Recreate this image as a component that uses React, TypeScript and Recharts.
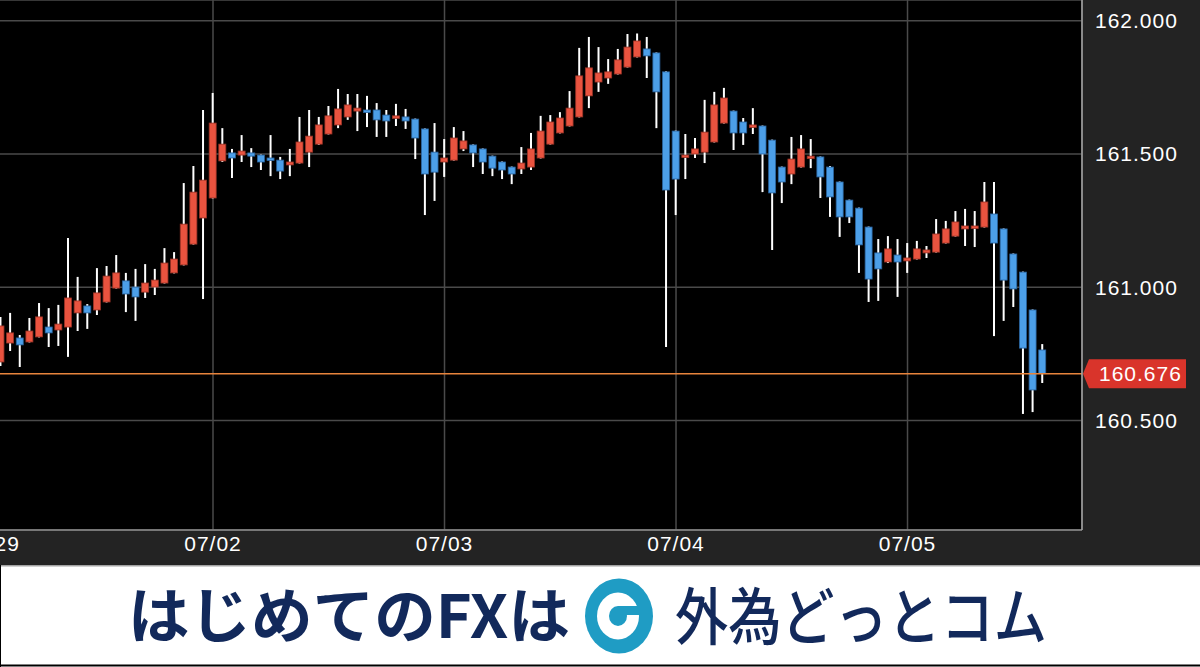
import React from "react";
import {
  ComposedChart,
  Bar,
  XAxis,
  YAxis,
  CartesianGrid,
  ReferenceLine,
} from "recharts";

// USD/JPY hourly candles, oldest first
const opens = [
  160.720, 160.791, 160.810, 160.795, 160.814, 160.851, 160.840, 160.851, 160.904, 160.930,
  160.915, 160.945, 160.997, 161.024, 161.001, 160.982, 161.001, 161.016, 161.054, 161.084,
  161.162, 161.260, 161.335, 161.474, 161.504, 161.496, 161.504, 161.496, 161.485, 161.477,
  161.459, 161.466, 161.507, 161.537, 161.575, 161.609, 161.639, 161.661, 161.665, 161.665,
  161.646, 161.635, 161.639, 161.631, 161.594, 161.507, 161.470, 161.477, 161.519, 161.534,
  161.519, 161.492, 161.470, 161.451, 161.444, 161.451, 161.485, 161.537, 161.579, 161.605,
  161.639, 161.718, 161.770, 161.785, 161.800, 161.826, 161.864, 161.894, 161.879, 161.808,
  161.586, 161.489, 161.500, 161.507, 161.545, 161.616, 161.661, 161.620, 161.601, 161.605,
  161.552, 161.451, 161.425, 161.451, 161.489, 161.489, 161.451, 161.395, 161.327, 161.297,
  161.226, 161.129, 161.095, 161.121, 161.099, 161.106, 161.129, 161.132, 161.166, 161.192,
  161.219, 161.226, 161.226, 161.275, 161.219, 161.125, 161.057, 160.915, 160.765,
];
const highs = [
  160.889, 160.904, 160.821, 160.885, 160.941, 160.922, 160.934, 161.185, 161.039, 160.937,
  161.072, 161.080, 161.121, 161.054, 161.069, 161.087, 161.069, 161.147, 161.132, 161.391,
  161.455, 161.665, 161.729, 161.597, 161.519, 161.571, 161.522, 161.498, 161.571, 161.489,
  161.519, 161.639, 161.665, 161.639, 161.680, 161.744, 161.725, 161.725, 161.718, 161.691,
  161.665, 161.688, 161.669, 161.633, 161.596, 161.616, 161.556, 161.601, 161.586, 161.536,
  161.521, 161.494, 161.472, 161.453, 161.526, 161.579, 161.643, 161.646, 161.657, 161.736,
  161.898, 161.939, 161.901, 161.856, 161.894, 161.950, 161.952, 161.939, 161.881, 161.810,
  161.588, 161.575, 161.560, 161.703, 161.733, 161.748, 161.663, 161.635, 161.672, 161.607,
  161.554, 161.453, 161.564, 161.571, 161.556, 161.491, 161.455, 161.397, 161.329, 161.299,
  161.228, 161.181, 161.192, 161.181, 161.166, 161.174, 161.155, 161.256, 161.249, 161.286,
  161.294, 161.286, 161.395, 161.395, 161.221, 161.127, 161.059, 160.917, 160.787,
];
const lows = [
  160.705, 160.761, 160.701, 160.793, 160.812, 160.776, 160.780, 160.739, 160.836, 160.844,
  160.896, 160.943, 160.995, 160.907, 160.874, 160.960, 160.971, 161.014, 161.052, 161.082,
  161.160, 160.956, 161.333, 161.470, 161.410, 161.470, 161.451, 161.440, 161.417, 161.406,
  161.417, 161.464, 161.451, 161.534, 161.573, 161.597, 161.628, 161.586, 161.601, 161.564,
  161.564, 161.605, 161.594, 161.481, 161.271, 161.324, 161.414, 161.475, 161.511, 161.451,
  161.425, 161.417, 161.406, 161.387, 161.425, 161.440, 161.483, 161.535, 161.577, 161.603,
  161.637, 161.672, 161.733, 161.763, 161.798, 161.824, 161.862, 161.785, 161.597, 160.776,
  161.271, 161.406, 161.485, 161.466, 161.543, 161.614, 161.515, 161.534, 161.575, 161.357,
  161.140, 161.316, 161.387, 161.449, 161.447, 161.335, 161.264, 161.189, 161.241, 161.054,
  160.945, 160.949, 161.091, 160.964, 161.054, 161.104, 161.110, 161.130, 161.164, 161.190,
  161.155, 161.151, 161.224, 160.817, 160.874, 160.926, 160.525, 160.532, 160.641,
];
const closes = [
  160.855, 160.829, 160.784, 160.836, 160.889, 160.829, 160.862, 160.960, 160.949, 160.904,
  160.979, 161.042, 161.054, 160.975, 160.964, 161.016, 161.027, 161.091, 161.106, 161.237,
  161.357, 161.402, 161.616, 161.537, 161.485, 161.511, 161.492, 161.470, 161.477, 161.436,
  161.470, 161.545, 161.567, 161.609, 161.643, 161.669, 161.684, 161.672, 161.661, 161.628,
  161.624, 161.643, 161.624, 161.560, 161.425, 161.432, 161.485, 161.560, 161.549, 161.504,
  161.470, 161.447, 161.440, 161.425, 161.466, 161.519, 161.586, 161.620, 161.635, 161.672,
  161.793, 161.823, 161.804, 161.808, 161.853, 161.901, 161.924, 161.868, 161.733, 161.365,
  161.406, 161.496, 161.519, 161.582, 161.684, 161.710, 161.579, 161.579, 161.609, 161.500,
  161.354, 161.395, 161.481, 161.519, 161.492, 161.414, 161.339, 161.264, 161.264, 161.159,
  161.031, 161.069, 161.144, 161.095, 161.110, 161.144, 161.140, 161.200, 161.219, 161.245,
  161.230, 161.230, 161.320, 161.166, 161.027, 160.994, 160.772, 160.615, 160.676,
];

// slot 0 is the empty hour before the first candle
const dateTickSlots = [0, 23, 47, 71, 95];
const dateLabels = ["06/29", "07/02", "07/03", "07/04", "07/05"];
const priceTicks = [160.5, 161.0, 161.5, 162.0];
const priceDomain = [160.0897, 162.0776];

const rows = [
  { slot: 0 },
  ...opens.map((o, n) => ({
    slot: n + 1,
    open: o,
    high: highs[n],
    low: lows[n],
    close: closes[n],
  })),
];
const lastPrice = closes[closes.length - 1];

const UP_FILL = "#e9533f";
const UP_EDGE = "#9c3427";
const DOWN_FILL = "#4c9fe8";
const DOWN_EDGE = "#2a649f";
const AXIS_FONT = "'Liberation Sans', Arial, sans-serif";

const Candle = (props: any) => {
  const { x, y, width, height, payload } = props;
  if (!payload || payload.high == null) return null;
  const { open, close, high, low } = payload;
  const perUnit = high > low ? height / (high - low) : 0;
  const yOf = (p: number) => y + (high - p) * perUnit;
  const cx = x + width / 2;
  const up = close >= open;
  const top = yOf(Math.max(open, close));
  const bottom = yOf(Math.min(open, close));
  const bodyH = Math.max(bottom - top, 2.5);
  return (
    <g>
      <line x1={cx} x2={cx} y1={y} y2={y + height} stroke="#ffffff" strokeWidth={2} />
      <rect
        x={cx - 3.5}
        y={top}
        width={7}
        height={bodyH}
        fill={up ? UP_FILL : DOWN_FILL}
        stroke={up ? UP_EDGE : DOWN_EDGE}
        strokeWidth={0.8}
      />
    </g>
  );
};

const PriceTick = ({ x, y, payload }: any) => (
  <text
    x={x + 13}
    y={y + 7.5}
    fill="#ffffff"
    fontSize={21}
    letterSpacing={1}
    fontFamily={AXIS_FONT}
  >
    {Number(payload.value).toFixed(3)}
  </text>
);

const DateTick = ({ x, y, payload }: any) => {
  const idx = dateTickSlots.indexOf(payload.value);
  return (
    <text
      x={x}
      y={y + 21}
      textAnchor="middle"
      fill="#ffffff"
      fontSize={21}
      letterSpacing={1}
      fontFamily={AXIS_FONT}
    >
      {idx >= 0 ? dateLabels[idx] : ""}
    </text>
  );
};

const LastPriceTag = ({ viewBox }: any) => {
  if (!viewBox) return null;
  const r = viewBox.x + viewBox.width;
  const cy = viewBox.y;
  const pts = [
    [r + 1, cy],
    [r + 7, cy - 14.5],
    [r + 104, cy - 14.5],
    [r + 104, cy + 14.5],
    [r + 7, cy + 14.5],
  ]
    .map((p) => p.join(","))
    .join(" ");
  return (
    <g>
      <polygon points={pts} fill="#d9342b" />
      <text
        x={r + 17}
        y={cy + 7.5}
        fill="#ffffff"
        fontSize={21}
        letterSpacing={1}
        fontFamily={AXIS_FONT}
      >
        {lastPrice.toFixed(3)}
      </text>
    </g>
  );
};

const Banner = () => {
  const cx = 619;
  const cy = 51;
  return (
    <svg
      width={1200}
      height={102}
      style={{ position: "absolute", left: 0, top: 565, display: "block" }}
    >
      <rect x={0} y={0} width={1200} height={102} fill="#ffffff" />
      <line x1={0} x2={1200} y1={0.75} y2={0.75} stroke="#a3a3a3" strokeWidth={1.5} />
      <line x1={0} x2={1200} y1={100.5} y2={100.5} stroke="#000000" strokeWidth={2} />
      <line x1={0.5} x2={0.5} y1={0} y2={102} stroke="#000000" strokeWidth={1} />
      <text
        x={128}
        y={73}
        fontSize={60}
        fontWeight={700}
        fill="#12295b"
        fontFamily="'Noto Sans CJK JP', sans-serif"
        textLength={442}
        lengthAdjust="spacingAndGlyphs"
      >
        はじめてのFXは
      </text>
      {/* round logo mark */}
      <ellipse cx={cx} cy={cy} rx={34} ry={37.5} fill="#1f9cc4" />
      <ellipse cx={cx - 1} cy={cy} rx={21} ry={23.5} fill="#ffffff" />
      <ellipse cx={cx - 1} cy={cy} rx={9} ry={10} fill="#1f9cc4" />
      <rect x={cx - 1} y={cy - 10} width={24} height={9} fill="#1f9cc4" />
      <text
        x={675}
        y={75}
        fontSize={62}
        fontWeight={500}
        fill="#12295b"
        fontFamily="'Noto Sans CJK JP', sans-serif"
        textLength={372}
        lengthAdjust="spacingAndGlyphs"
      >
        外為どっとコム
      </text>
    </svg>
  );
};

export default function App() {
  return (
    <div
      style={{
        position: "fixed",
        left: 0,
        top: 0,
        width: 1200,
        height: 667,
        overflow: "hidden",
        background: "#232323",
      }}
    >
      <div style={{ position: "absolute", left: -20, top: 0 }}>
        <ComposedChart
          width={1220}
          height={565}
          data={rows}
          margin={{ top: 0, right: 0, bottom: 0, left: 0 }}
        >
          <CartesianGrid fill="#000000" stroke="#4a4a4a" strokeWidth={1.5} />
          <XAxis
            dataKey="slot"
            type="category"
            ticks={dateTickSlots}
            interval={0}
            height={35}
            padding={{ left: 6.32, right: 34.62 }}
            tickSize={0}
            tickMargin={0}
            tickLine={false}
            axisLine={{ stroke: "#8c8c8c", strokeWidth: 1.5 }}
            tick={<DateTick />}
          />
          <YAxis
            orientation="right"
            width={118}
            type="number"
            domain={priceDomain}
            allowDataOverflow
            ticks={priceTicks}
            tickSize={0}
            tickMargin={0}
            tickLine={false}
            axisLine={{ stroke: "#a6a6a6", strokeWidth: 1.5 }}
            tick={<PriceTick />}
          />
          <Bar
            dataKey={(d: any) => (d.high == null ? null : [d.low, d.high])}
            barSize={7}
            shape={<Candle />}
            isAnimationActive={false}
          />
          <ReferenceLine
            y={lastPrice}
            stroke="#e8843c"
            strokeWidth={1.5}
            label={<LastPriceTag />}
          />
        </ComposedChart>
      </div>
      <Banner />
    </div>
  );
}
